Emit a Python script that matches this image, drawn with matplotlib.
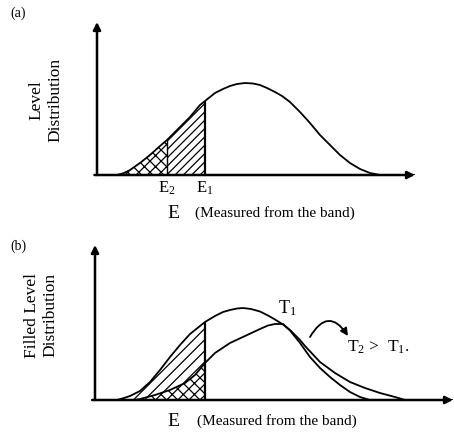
import matplotlib
matplotlib.use("Agg")
import matplotlib.pyplot as plt

plt.rcParams['font.family'] = ['Liberation Serif', 'DejaVu Serif']
plt.rcParams['mathtext.default'] = 'regular'
plt.rcParams['hatch.linewidth'] = 0.9

# (a) level distribution
E_a = [0.0, 2.0, 2.7, 3.3, 4.3, 5.3, 6.3, 7.0, 8.3, 9.3, 10.3, 10.8, 11.8,
       12.6, 13.3, 14.0, 14.8, 15.6, 16.3, 17.0, 17.8, 18.5, 19.3, 20.3,
       21.3, 22.3, 23.3, 24.3, 25.3, 26.3, 27.3, 28.3, 31.8]
level_a = [0.0, 0.0, 0.2, 0.5, 1.2, 2.0, 2.9, 3.5, 4.8, 5.8, 7.0, 7.4, 8.2,
           8.6, 8.9, 9.1, 9.2, 9.15, 9.0, 8.7, 8.3, 7.9, 7.3, 6.3,
           5.2, 4.0, 3.0, 2.0, 1.2, 0.6, 0.2, 0.0, 0.0]
E2 = 7.0
E1 = 10.8

# (b) filled level distribution for T1 and T2
E_t1 = [0.0, 2.2, 2.9, 3.5, 4.5, 5.5, 6.5, 7.5, 8.5, 9.5, 10.5, 11.0, 12.0,
        12.8, 13.5, 14.2, 14.8, 15.6, 16.5, 17.3, 18.0, 18.8, 19.5, 20.5,
        21.0, 22.5, 24.0, 25.5, 27.0, 28.5, 30.0, 31.0, 35.8]
fill_t1 = [0.0, 0.0, 0.2, 0.4, 0.9, 1.8, 3.0, 4.3, 5.5, 6.6, 7.4, 7.8, 8.4,
           8.8, 9.0, 9.15, 9.2, 9.1, 8.85, 8.45, 8.05, 7.55, 7.0, 6.0,
           5.4, 3.8, 2.7, 1.8, 1.2, 0.7, 0.3, 0.0, 0.0]
E_t2 = [4.0, 4.5, 6.0, 7.5, 9.0, 10.0, 11.0, 12.0, 13.5, 15.0, 16.5, 17.3,
        18.0, 18.8, 19.5, 20.5, 21.5, 22.5, 23.5, 24.5, 25.5, 26.5, 27.5]
fill_t2 = [0.0, 0.1, 0.5, 1.0, 1.7, 2.5, 3.7, 4.7, 5.7, 6.4, 7.1, 7.45,
           7.6, 7.6, 6.95, 5.7, 4.3, 3.2, 2.3, 1.5, 0.8, 0.3, 0.0]
E_cut = 11.0

W, H = 454, 437
fig = plt.figure(figsize=(W / 100, H / 100), dpi=100)


def make_axes(x0, x1, ytop, ybase, xmax, ymax):
    ax = fig.add_axes([x0 / W, 1 - ybase / H, (x1 - x0) / W, (ybase - ytop) / H])
    ax.set_xlim(0, xmax)
    ax.set_ylim(0, ymax)
    ax.set_axis_off()
    arrow = dict(arrowstyle='-|>', color='black', lw=1.8, mutation_scale=11,
                 shrinkA=0, shrinkB=0)
    ax.annotate('', xy=(0, 1), xytext=(0, 0), xycoords='axes fraction',
                arrowprops=arrow, annotation_clip=False)
    ax.annotate('', xy=(1, 0), xytext=(-0.008, 0), xycoords='axes fraction',
                arrowprops=arrow, annotation_clip=False)
    return ax


# ---- panel (a)
ax = make_axes(97, 415, 22, 175, 31.8, 15.3)
ax.plot(E_a, level_a, color='black', lw=1.3)
left = [e <= E2 for e in E_a]
mid = [E2 <= e <= E1 for e in E_a]
ax.fill_between(E_a, 0, level_a, where=left, facecolor='none',
                edgecolor='black', hatch='xxx', lw=0)
ax.fill_between(E_a, 0, level_a, where=mid, facecolor='none',
                edgecolor='black', hatch='////', lw=0)
ax.vlines(E1, 0, level_a[E_a.index(E1)], color='black', lw=1.6)
ax.vlines(E2, 0, level_a[E_a.index(E2)], color='black', lw=1.0)
ax.text(E2, -0.5, 'E$_2$', ha='center', va='top', fontsize=12)
ax.text(E1, -0.5, 'E$_1$', ha='center', va='top', fontsize=12)

fig.text(18 / W, 1 - 13 / H, '(a)', ha='center', va='center', fontsize=10)
fig.text(46 / W, 1 - 100 / H, 'Level\nDistribution', rotation=90,
         ha='center', va='center', multialignment='center', fontsize=12.5,
         linespacing=1.25)
fig.text(173 / W, 1 - 213 / H, 'E', ha='center', va='center', fontsize=14)
fig.text(195 / W, 1 - 213 / H, '(Measured from the band)', ha='left',
         va='center', fontsize=11)

# ---- panel (b)
bx = make_axes(95, 453, 245, 400, 35.8, 15.5)
bx.plot(E_t1, fill_t1, color='black', lw=1.3)
bx.plot(E_t2, fill_t2, color='black', lw=1.3)

t1_cut = [e for e in E_t1 if e <= E_cut]
t1_y = fill_t1[:len(t1_cut)]
t2_cut = [e for e in E_t2 if e <= E_cut]
t2_y = fill_t2[:len(t2_cut)]
# region between T1 and T2
poly_x = t1_cut + t2_cut[::-1]
poly_y = t1_y + t2_y[::-1]
bx.fill(poly_x, poly_y, facecolor='none', edgecolor='black', hatch='///', lw=0)
bx.fill_between(t2_cut, 0, t2_y, facecolor='none', edgecolor='black',
                hatch='xxx', lw=0)
bx.vlines(E_cut, 0, fill_t1[E_t1.index(E_cut)], color='black', lw=1.6)

bx.text(18.3, 8.2, 'T$_1$', fontsize=13, ha='left', va='bottom')
bx.text(25.2, 5.3, 'T$_2$ >  T$_1$.', fontsize=12.5, ha='left', va='center')
bx.annotate('', xy=(25.3, 6.4), xytext=(21.5, 6.3),
            arrowprops=dict(arrowstyle='-|>', color='black', lw=1.3,
                            mutation_scale=11, shrinkA=0, shrinkB=0,
                            connectionstyle='arc3,rad=-0.8'))

fig.text(18 / W, 1 - 246 / H, '(b)', ha='center', va='center', fontsize=10)
fig.text(41 / W, 1 - 315 / H, 'Filled Level\nDistribution', rotation=90,
         ha='center', va='center', multialignment='center', fontsize=12.5,
         linespacing=1.25)
fig.text(173 / W, 1 - 421 / H, 'E', ha='center', va='center', fontsize=14)
fig.text(197 / W, 1 - 421 / H, '(Measured from the band)', ha='left',
         va='center', fontsize=11)

fig.savefig('out.png', dpi=100)
